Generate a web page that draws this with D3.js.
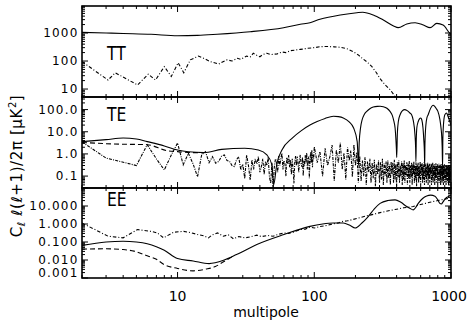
<!DOCTYPE html>
<html><head><meta charset="utf-8">
<script src="https://cdn.jsdelivr.net/npm/d3@7"></script>
<style>body{margin:0;background:#fff}svg{display:block}</style>
</head><body><svg id="c" width="470" height="325"></svg>
<script>
// ---------- DATA ----------
const panelNames = ["TT", "TE", "EE"];
const xTickLabels = [10, 100, 1000];
const ttTickLabels = [10, 100, 1000];
const teTickLabels = [0.1, 1, 10, 100];
const eeTickLabels = [0.001, 0.01, 0.1, 1, 10];

const ttSolid = [[2,1050],[3,1000],[4,960],[6.4,900],[10,800],[14,820],[19.5,900],[34,1110],[59.6,1550],[79,2050],[93,2330],[110,3080],[155,4400],[205,5300],[226,5500],[270,4400],[320,2900],[380,1780],[411,1550],[475,2100],[546,2330],[628,1930],[703,1550],[787,2200],[875,1930],[980,980],[1000,900]];
const ttNoise = [[2,95],[3.1,21],[3.5,38],[5.1,14],[6.1,34],[6.9,21],[8,63],[9,28],[10.1,87],[11.1,38],[12.4,110],[14.2,150],[15.5,125],[17.4,95],[20,78],[21.5,95],[23,110],[25,100],[27.4,125],[29,115],[32,150],[34,140],[35.8,190],[38,160],[40,142],[42,170],[45,190],[48,170],[53.6,180],[58,210],[62,200],[66.8,233],[72,245],[79,260],[84,270],[89,285],[100,300],[110,325],[125,330],[140,320],[155,310],[175,270],[193,215],[210,165],[224,125],[245,90],[264,63],[285,38],[302,24],[330,14],[358,9.6],[380,6.5],[400,4.5],[420,3]];

const teSolid = [[2,3.6],[3,4.4],[4,5.2],[5,4.7],[6,3.6],[8,2.3],[10,1.5],[12,1.25],[15.6,1.15],[21,1.6],[31,1.8],[39,1.5],[45,0.9],[49,0.32],[50.4,0.04],[53.3,0.38],[58,1.5],[69,5.2],[80,11],[93,20],[105,29],[120,40],[138,50],[150,48],[163,42],[180,28],[194,14.7],[206,3.6],[211,0.3],[213,3],[218,15],[224,35],[232,60],[242,83],[255,110],[270,130],[290,140],[303,141],[320,135],[340,115],[358,83],[372,55],[382,30],[390,14.7],[395,5],[399,1.5],[401,0.7],[405,8],[412,29],[425,60],[440,88],[459,100],[478,90],[498,72],[515,59],[530,32],[545,7.3],[551,2],[554,0.45],[557,4],[563,16],[576,29],[588,38],[600,42],[612,34],[624,14.7],[633,4],[639,1.2],[642,0.3],[645,3],[655,20],[668,45],[681,59],[700,95],[720,135],[739,156],[760,140],[785,105],[802,83],[830,35],[845,15],[854,7.3],[862,2],[868,0.26],[872,5],[885,30],[902,59],[928,70],[950,50],[981,29],[1000,20]];
const teDashed = [[2,3.3],[3.4,2.8],[6,2.6],[8.4,1.4],[10,1.27],[12.4,1.15],[15.6,1.15]];
const teNoiseLowV = [3.5,0.65,0.42,0.3,2.6,0.6,0.19,0.9,3.1,0.32,
 1.07,0.35,0.093,0.9,1.27,0.4,0.75,0.38,0.46,0.8,
 0.9,0.5,0.46,0.3,0.27,0.55,0.75,0.19,0.35,0.078,
 0.9,0.3,0.066,0.53,
 0.2,0.6,0.35,0.75,0.15,0.27,0.6,0.12,0.46,0.3,
 0.7,0.09,0.047,0.4,0.03,0.25,0.6,0.46,0.15,0.8,
 0.3,0.65,1.07,0.2,0.5,0.38,0.1,0.7,0.35,0.9,
 0.25,0.55,0.12,0.6,0.2,0.047,0.45,0.8,0.3,0.75,
 0.4,0.15,0.6,0.9,0.35,0.27,0.7,0.1,0.5,0.3,
 0.9,0.45,1.1,0.2,0.6,0.75,0.08,0.5,1.2,0.4,
 1.5,0.25,0.9,0.6,2.1];
const teNoiseHighV = [0.4,1.27,0.1,1.8,0.3,0.75,2.5,0.06,1.5,0.4,3.2,0.2,1.1,0.07,2.0,0.5,1.4,0.09,2.6,0.3,1.2,0.05,0.8,
 0.06,0.5,0.1,0.7,0.04,0.45,0.15,0.6,0.05,0.4,
 0.08,0.55,0.035,0.35,0.12,0.5,0.05,0.42,0.07,0.6,
 0.04,0.38,0.1,0.45,0.05,0.5,0.08,0.33,0.04,0.45,
 0.12,0.4,0.05,0.55,0.07,0.35,0.035,0.42,0.09,0.5,
 0.05,0.3,0.1,0.45,0.04,0.38,0.07,0.5,0.05,0.32,
 0.11,0.42,0.04,0.36,0.08,0.48,0.05,0.3,0.09,0.4,
 0.04,0.35,0.12,0.45,0.05,0.3,0.07,0.42,0.035,0.33,
 0.1,0.4,0.05,0.28,0.08,0.45,0.04,0.35,0.11,0.38,
 0.05,0.3,0.07,0.42,0.04,0.32,0.09,0.37,0.05,0.28,
 0.1,0.4,0.04,0.3,0.08,0.36,0.05,0.27,0.12,0.38,
 0.04,0.33,0.07,0.4,0.05,0.3,0.1,0.35,0.04,0.28,
 0.08,0.38,0.05,0.3,0.11,0.34,0.04,0.27,0.07,0.36,
 0.05,0.3,0.09,0.33,0.04,0.28,0.1,0.35,0.05,0.26,
 0.08,0.32,0.04,0.3,0.11,0.34,0.05,0.27,0.07,0.32,
 0.04,0.29,0.09,0.33,0.05,0.26,0.1,0.3,0.04,0.28,
 0.07,0.32,0.05,0.27,0.09,0.3,0.2];

const eeSolid = [[2,0.065],[3,0.1],[4,0.11],[5,0.1],[6,0.08],[7,0.055],[8,0.035],[10,0.012],[13,0.0088],[17,0.0063],[21.7,0.0096],[27,0.02],[38,0.073],[60,0.26],[93,0.74],[115,1.0],[138,1.13],[163,1.13],[182,0.85],[199,0.6],[222,1.1],[248,2.6],[275,7],[303,14],[345,20],[390,22],[430,16],[474,9.3],[500,7.5],[529,6.1],[550,8],[576,14],[620,26],[664,36],[710,40],[763,35],[800,22],[828,14],[850,13],[875,17],[910,26],[954,33],[1000,40]];
const eeDashed = [[2,0.04],[3,0.042],[4,0.038],[4.8,0.031],[6,0.017],[7,0.011],[7.9,0.0058],[10,0.0034],[13,0.0025],[16,0.0031],[18.9,0.0043],[21.2,0.0072],[25,0.015]];
const eeNoise = [[2,1.13],[3.1,0.21],[4,0.17],[5.1,0.49],[6.4,0.39],[7.1,0.32],[7.9,0.17],[9.35,0.35],[11.1,0.39],[12.5,0.33],[14,0.26],[15.5,0.22],[16.8,0.17],[18,0.25],[19.6,0.32],[21.6,0.21],[23.5,0.25],[25.6,0.15],[28,0.2],[31,0.17],[34,0.19],[38,0.24],[41,0.2],[45.4,0.23],[50,0.21],[54,0.26],[59.6,0.32],[65,0.3],[70,0.35],[79,0.49],[86,0.52],[93,0.68],[100,0.6],[110,0.72],[120,0.8],[130,0.92],[140,1.05],[150,1.15],[162,1.4],[175,1.5],[190,1.75],[205,2.05],[220,2.35],[240,2.8],[260,3.2],[280,3.7],[303,4.3],[330,4.9],[360,5.7],[390,6.4],[420,7.1],[450,8.0],[490,8.6],[529,9.3],[570,11],[610,12.5],[650,14],[700,16],[750,18],[800,20],[850,22],[900,24],[950,26],[1000,27]];

// ---------- BUILD ----------
const teNoise = d3.range(2, 101).map((l, i) => [l, teNoiseLowV[i]])
  .concat(d3.range(105, 1001, 5).map((l, i) => [l, teNoiseHighV[i]]))
  .filter(d => d[1] != null);

const svg = d3.select('#c');
const X0 = 82, X1 = 451;
const x = d3.scaleLog().domain([2, 1000]).range([X0, X1]);
const font = "'DejaVu Sans', sans-serif";

const panels = [
  {name: panelNames[0], top: 6, bot: 97, dom: [5.2, 9200], ticks: ttTickLabels, fmt: d3.format('d'), labY: 60,
   series: [{d: ttSolid, dash: null, curve: d3.curveMonotoneX}, {d: ttNoise, dash: '3.5,2,1,2', curve: d3.curveLinear}]},
  {name: panelNames[1], top: 97, bot: 188, dom: [0.029, 370], ticks: teTickLabels, fmt: d3.format('.1f'), labY: 121,
   series: [{d: teNoise, dash: '3,1.2,1,1.2', curve: d3.curveLinear, w: 1.1}, {d: teDashed, dash: '5,3', curve: d3.curveMonotoneX}, {d: teSolid, dash: null, curve: d3.curveMonotoneX}]},
  {name: panelNames[2], top: 188, bot: 278, dom: [0.001, 100], ticks: eeTickLabels, fmt: d3.format('.3f'), labY: 206,
   series: [{d: eeNoise, dash: '3.5,2,1,2', curve: d3.curveLinear}, {d: eeDashed, dash: '5,3', curve: d3.curveMonotoneX}, {d: eeSolid, dash: null, curve: d3.curveMonotoneX}]}
];

function minorTicks(dom) {
  const out = [];
  const lo = Math.floor(Math.log10(dom[0])), hi = Math.ceil(Math.log10(dom[1]));
  for (let e = lo; e <= hi; e++) for (let k = 1; k <= 9; k++) {
    const v = k * Math.pow(10, e);
    if (v >= dom[0] * 0.9999 && v <= dom[1] * 1.0001) out.push({v, major: k === 1});
  }
  return out;
}

const xt = minorTicks([2, 1000]);

panels.forEach((p, pi) => {
  const y = d3.scaleLog().domain(p.dom).range([p.bot, p.top]);
  const g = svg.append('g');
  const cid = 'clip' + pi;
  svg.append('clipPath').attr('id', cid).append('rect')
    .attr('x', X0).attr('y', p.top).attr('width', X1 - X0).attr('height', p.bot - p.top);
  const cg = g.append('g').attr('clip-path', `url(#${cid})`);
  p.series.forEach(s => {
    const line = d3.line().x(d => x(d[0])).y(d => y(d[1])).curve(s.curve);
    cg.append('path').attr('d', line(s.d)).attr('fill', 'none').attr('stroke', '#000')
      .attr('stroke-width', s.w || 1.1).attr('stroke-dasharray', s.dash);
  });
  // y ticks
  minorTicks(p.dom).forEach(t => {
    const yy = y(t.v), L = t.major ? 6 : 3;
    g.append('line').attr('x1', X0).attr('x2', X0 + L).attr('y1', yy).attr('y2', yy).attr('stroke', '#000').attr('stroke-width', 1);
    g.append('line').attr('x1', X1).attr('x2', X1 - L).attr('y1', yy).attr('y2', yy).attr('stroke', '#000').attr('stroke-width', 1);
  });
  // x ticks top & bottom
  xt.forEach(t => {
    const xx = x(t.v), L = t.major ? 6 : 3;
    g.append('line').attr('x1', xx).attr('x2', xx).attr('y1', p.bot).attr('y2', p.bot - L).attr('stroke', '#000').attr('stroke-width', 1);
    g.append('line').attr('x1', xx).attr('x2', xx).attr('y1', p.top).attr('y2', p.top + L).attr('stroke', '#000').attr('stroke-width', 1);
  });
  // frame
  g.append('rect').attr('x', X0).attr('y', p.top).attr('width', X1 - X0).attr('height', p.bot - p.top)
    .attr('fill', 'none').attr('stroke', '#000').attr('stroke-width', 1.6);
  // tick labels
  p.ticks.forEach(v => {
    let yy = y(v);
    if (yy > p.bot - 4) yy = p.bot - 5;
    g.append('text').attr('x', 78.5).attr('y', yy).attr('dy', '0.36em').attr('text-anchor', 'end')
      .attr('font-family', font).attr('font-size', 12).attr('letter-spacing', 1.2).text(p.fmt(v));
  });
  // panel label
  g.append('text').attr('transform', `translate(107,${p.labY}) scale(0.82,1)`)
    .attr('font-family', font).attr('font-size', 19).text(p.name);
});

// x tick labels
xTickLabels.forEach(v => {
  svg.append('text').attr('x', x(v) - (v === 1000 ? 2 : 0)).attr('y', 301).attr('text-anchor', 'middle')
    .attr('font-family', font).attr('font-size', 14).text(v);
});
svg.append('text').attr('x', 266).attr('y', 317).attr('text-anchor', 'middle')
  .attr('font-family', font).attr('font-size', 14).text('multipole');

// y title
const yt = svg.append('text').attr('transform', 'translate(22,166) rotate(-90)').attr('text-anchor', 'middle')
  .attr('font-family', font).attr('font-size', 15).attr('letter-spacing', 0.6);
yt.append('tspan').text('C');
yt.append('tspan').attr('font-size', 11).attr('dy', 3).text('ℓ');
yt.append('tspan').attr('dy', -3).text(' ℓ(ℓ+1)/2π [μK');
yt.append('tspan').attr('font-size', 10).attr('dy', -6).text('2');
yt.append('tspan').attr('dy', 6).text(']');
</script></body></html>
